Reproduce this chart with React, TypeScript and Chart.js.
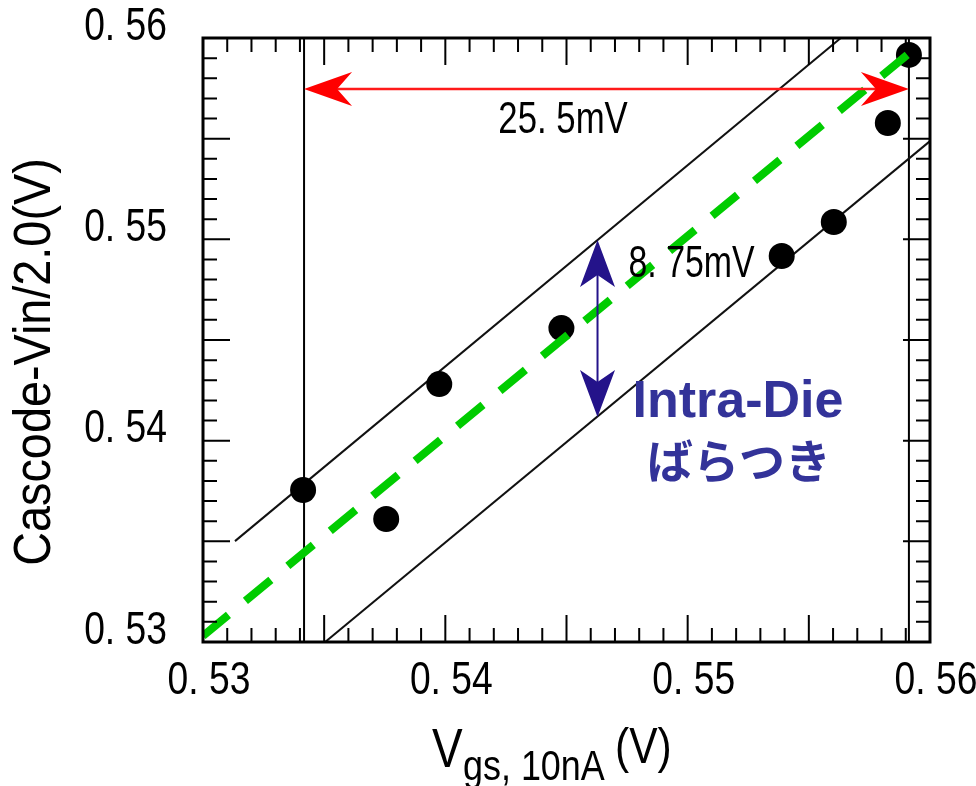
import React, { useEffect, useRef } from 'react';
import { Chart, registerables } from 'chart.js';

Chart.register(...registerables);

// ---- data ----
const vgs10nA = [0.53413, 0.53756, 0.53975, 0.54479, 0.55388, 0.55603, 0.55826, 0.55913];
const cascodeVin = [0.53755, 0.53611, 0.54281, 0.54559, 0.54917, 0.55086, 0.55578, 0.55916];

const axisTicks = [0.53, 0.54, 0.55, 0.56];
const axisTickLabels = ['0. 53', '0. 54', '0. 55', '0. 56'];
const axisMinorStep = 0.001;

const upperBandX = [0.53132, 0.55632];
const upperBandY = [0.53501, 0.56];
const lowerBandX = [0.53504, 0.56];
const lowerBandY = [0.53, 0.55488];
const fitX = [0.53, 0.55955];
const fitY = [0.5303, 0.55965];

const spreadX = [0.53417, 0.55913];
const spreadArrowY = 0.55747;
const spreadLabel = '25. 5mV';
const intraX = 0.54628;
const intraY = [0.54117, 0.54997];
const intraLabel = '8. 75mV';
const noteLines = ['Intra-Die', 'ばらつき'];

const yTitle = 'Cascode-Vin/2.0(V)';
const xTitleMain = 'V';
const xTitleSub = 'gs, 10nA';
const xTitleUnit = '(V)';

const SANS = "'Liberation Sans', Arial, sans-serif";

const pts = (xs: number[], ys: number[]) => xs.map((x, i) => ({ x, y: ys[i] }));

function narrowText(
  ctx: CanvasRenderingContext2D,
  text: string,
  x: number,
  y: number,
  size: number,
  sx: number,
  align: CanvasTextAlign,
  baseline: CanvasTextBaseline,
  rot = 0
) {
  ctx.save();
  ctx.translate(x, y);
  if (rot) ctx.rotate(rot);
  ctx.scale(sx, 1);
  ctx.font = `${size}px ${SANS}`;
  ctx.textAlign = align;
  ctx.textBaseline = baseline;
  ctx.fillText(text, 0, 0);
  ctx.restore();
}

function arrowHead(ctx: CanvasRenderingContext2D, tx: number, ty: number, dx: number, dy: number, len: number, hw: number, notch: number) {
  const px = -dy;
  const py = dx;
  ctx.beginPath();
  ctx.moveTo(tx, ty);
  ctx.lineTo(tx - dx * len + px * hw, ty - dy * len + py * hw);
  ctx.lineTo(tx - dx * notch, ty - dy * notch);
  ctx.lineTo(tx - dx * len - px * hw, ty - dy * len - py * hw);
  ctx.closePath();
  ctx.fill();
}

const framePlugin = {
  id: 'frameTicks',
  afterDraw(chart: any) {
    const ctx: CanvasRenderingContext2D = chart.ctx;
    const xs = chart.scales.x;
    const ys = chart.scales.y;
    const { left, right, top, bottom } = chart.chartArea;
    ctx.save();
    ctx.strokeStyle = '#000';
    ctx.lineWidth = 2;
    const n = Math.round((axisTicks[axisTicks.length - 1] - axisTicks[0]) / axisMinorStep);
    for (let i = 1; i < n; i++) {
      const v = axisTicks[0] + i * axisMinorStep;
      const len = i % 5 === 0 ? 27 : 14;
      const xp = xs.getPixelForValue(v);
      const yp = ys.getPixelForValue(v);
      ctx.beginPath();
      ctx.moveTo(xp, bottom); ctx.lineTo(xp, bottom - len);
      ctx.moveTo(xp, top); ctx.lineTo(xp, top + len);
      ctx.moveTo(left, yp); ctx.lineTo(left + len, yp);
      ctx.moveTo(right, yp); ctx.lineTo(right - len, yp);
      ctx.stroke();
    }
    ctx.lineWidth = 3;
    ctx.strokeRect(left, top, right - left, bottom - top);

    // tick labels
    ctx.fillStyle = '#000';
    axisTicks.forEach((v, i) => {
      narrowText(ctx, axisTickLabels[i], xs.getPixelForValue(v) + 6, bottom + 39, 46, 0.81, 'center', 'middle');
      narrowText(ctx, axisTickLabels[i], left - 36, ys.getPixelForValue(v) - 11, 46, 0.81, 'right', 'middle');
    });

    // red spread arrow
    const ay = ys.getPixelForValue(spreadArrowY);
    const ax0 = xs.getPixelForValue(spreadX[0]);
    const ax1 = xs.getPixelForValue(spreadX[1]);
    ctx.strokeStyle = '#ff1a1a';
    ctx.fillStyle = '#ff0000';
    ctx.lineWidth = 2.5;
    ctx.beginPath();
    ctx.moveTo(ax0 + 30, ay); ctx.lineTo(ax1 - 30, ay);
    ctx.stroke();
    arrowHead(ctx, ax0, ay, -1, 0, 48, 17, 33);
    arrowHead(ctx, ax1, ay, 1, 0, 48, 17, 33);

    // blue intra-die arrow
    const bx = xs.getPixelForValue(intraX);
    const by0 = ys.getPixelForValue(intraY[0]);
    const by1 = ys.getPixelForValue(intraY[1]);
    ctx.strokeStyle = '#24138a';
    ctx.fillStyle = '#24138a';
    ctx.lineWidth = 2;
    ctx.beginPath();
    ctx.moveTo(bx, by1 + 30); ctx.lineTo(bx, by0 - 30);
    ctx.stroke();
    arrowHead(ctx, bx, by1, 0, -1, 47, 17.5, 35);
    arrowHead(ctx, bx, by0, 0, 1, 47, 17.5, 35);

    // annotation texts
    ctx.fillStyle = '#000';
    narrowText(ctx, spreadLabel, ax0 + 259, ay + 44, 44, 0.79, 'center', 'alphabetic');
    narrowText(ctx, intraLabel, bx + 31, by1 + 37, 44, 0.77, 'left', 'alphabetic');

    ctx.fillStyle = '#333399';
    ctx.textAlign = 'center';
    ctx.textBaseline = 'alphabetic';
    ctx.font = `bold 52px ${SANS}`;
    ctx.fillText(noteLines[0], 738, 417);
    ctx.font = "bold 46px 'Noto Sans CJK JP', sans-serif";
    ctx.textBaseline = 'middle';
    ctx.fillText(noteLines[1], 739, 461);

    // axis titles
    ctx.fillStyle = '#000';
    narrowText(ctx, yTitle, 36, 362, 52, 0.9, 'center', 'middle', -Math.PI / 2);
    narrowText(ctx, xTitleMain, 432, 767, 56, 0.82, 'left', 'alphabetic');
    narrowText(ctx, xTitleSub, 463, 780, 42, 0.855, 'left', 'alphabetic');
    narrowText(ctx, xTitleUnit, 615, 763, 50, 0.85, 'left', 'alphabetic');
    ctx.restore();
  },
};

export default function App() {
  const ref = useRef<HTMLCanvasElement>(null);
  useEffect(() => {
    if (!ref.current) return;
    const chart = new Chart(ref.current, {
      type: 'scatter',
      data: {
        datasets: [
          {
            data: pts(fitX, fitY),
            showLine: true,
            borderColor: '#00cc00',
            borderWidth: 8,
            borderDash: [33, 22],
            borderCapStyle: 'butt',
            pointRadius: 0,
            order: 0,
          },
          {
            data: pts(vgs10nA, cascodeVin),
            pointRadius: 13,
            pointBackgroundColor: '#000',
            pointBorderWidth: 0,
            showLine: false,
            order: 1,
          },
          {
            data: pts(upperBandX, upperBandY),
            showLine: true,
            borderColor: '#111',
            borderWidth: 2,
            pointRadius: 0,
            order: 2,
          },
          {
            data: pts(lowerBandX, lowerBandY),
            showLine: true,
            borderColor: '#111',
            borderWidth: 2,
            pointRadius: 0,
            order: 3,
          },
          {
            data: pts([spreadX[0], spreadX[0]], [axisTicks[0], axisTicks[3]]),
            showLine: true,
            borderColor: '#000',
            borderWidth: 2,
            pointRadius: 0,
            order: 4,
          },
          {
            data: pts([spreadX[1], spreadX[1]], [axisTicks[0], axisTicks[3]]),
            showLine: true,
            borderColor: '#000',
            borderWidth: 2,
            pointRadius: 0,
            order: 5,
          },
        ],
      },
      options: {
        animation: false,
        responsive: false,
        devicePixelRatio: 1,
        events: [],
        layout: { padding: { top: 38, right: 46, left: 0, bottom: 0 } },
        plugins: { legend: { display: false }, tooltip: { enabled: false } },
        scales: {
          x: {
            type: 'linear',
            min: axisTicks[0],
            max: axisTicks[axisTicks.length - 1],
            grid: { display: false, drawTicks: false },
            border: { display: false },
            afterBuildTicks: (s: any) => {
              s.ticks = axisTicks.map((v) => ({ value: v }));
            },
            afterFit: (s: any) => {
              s.height = 144;
              s.paddingLeft = 0;
              s.paddingRight = 0;
            },
            ticks: { display: false },
          },
          y: {
            type: 'linear',
            min: axisTicks[0],
            max: axisTicks[axisTicks.length - 1],
            grid: { display: false, drawTicks: false },
            border: { display: false },
            afterBuildTicks: (s: any) => {
              s.ticks = axisTicks.map((v) => ({ value: v }));
            },
            afterFit: (s: any) => {
              s.width = 203;
              s.paddingTop = 0;
              s.paddingBottom = 0;
            },
            ticks: { display: false },
          },
        },
      },
      plugins: [framePlugin],
    } as any);
    return () => chart.destroy();
  }, []);
  return (
    <div style={{ position: 'fixed', left: 0, top: 0, width: 976, height: 786, background: '#fff' }}>
      <canvas ref={ref} width={976} height={786} style={{ width: 976, height: 786, display: 'block' }} />
    </div>
  );
}
